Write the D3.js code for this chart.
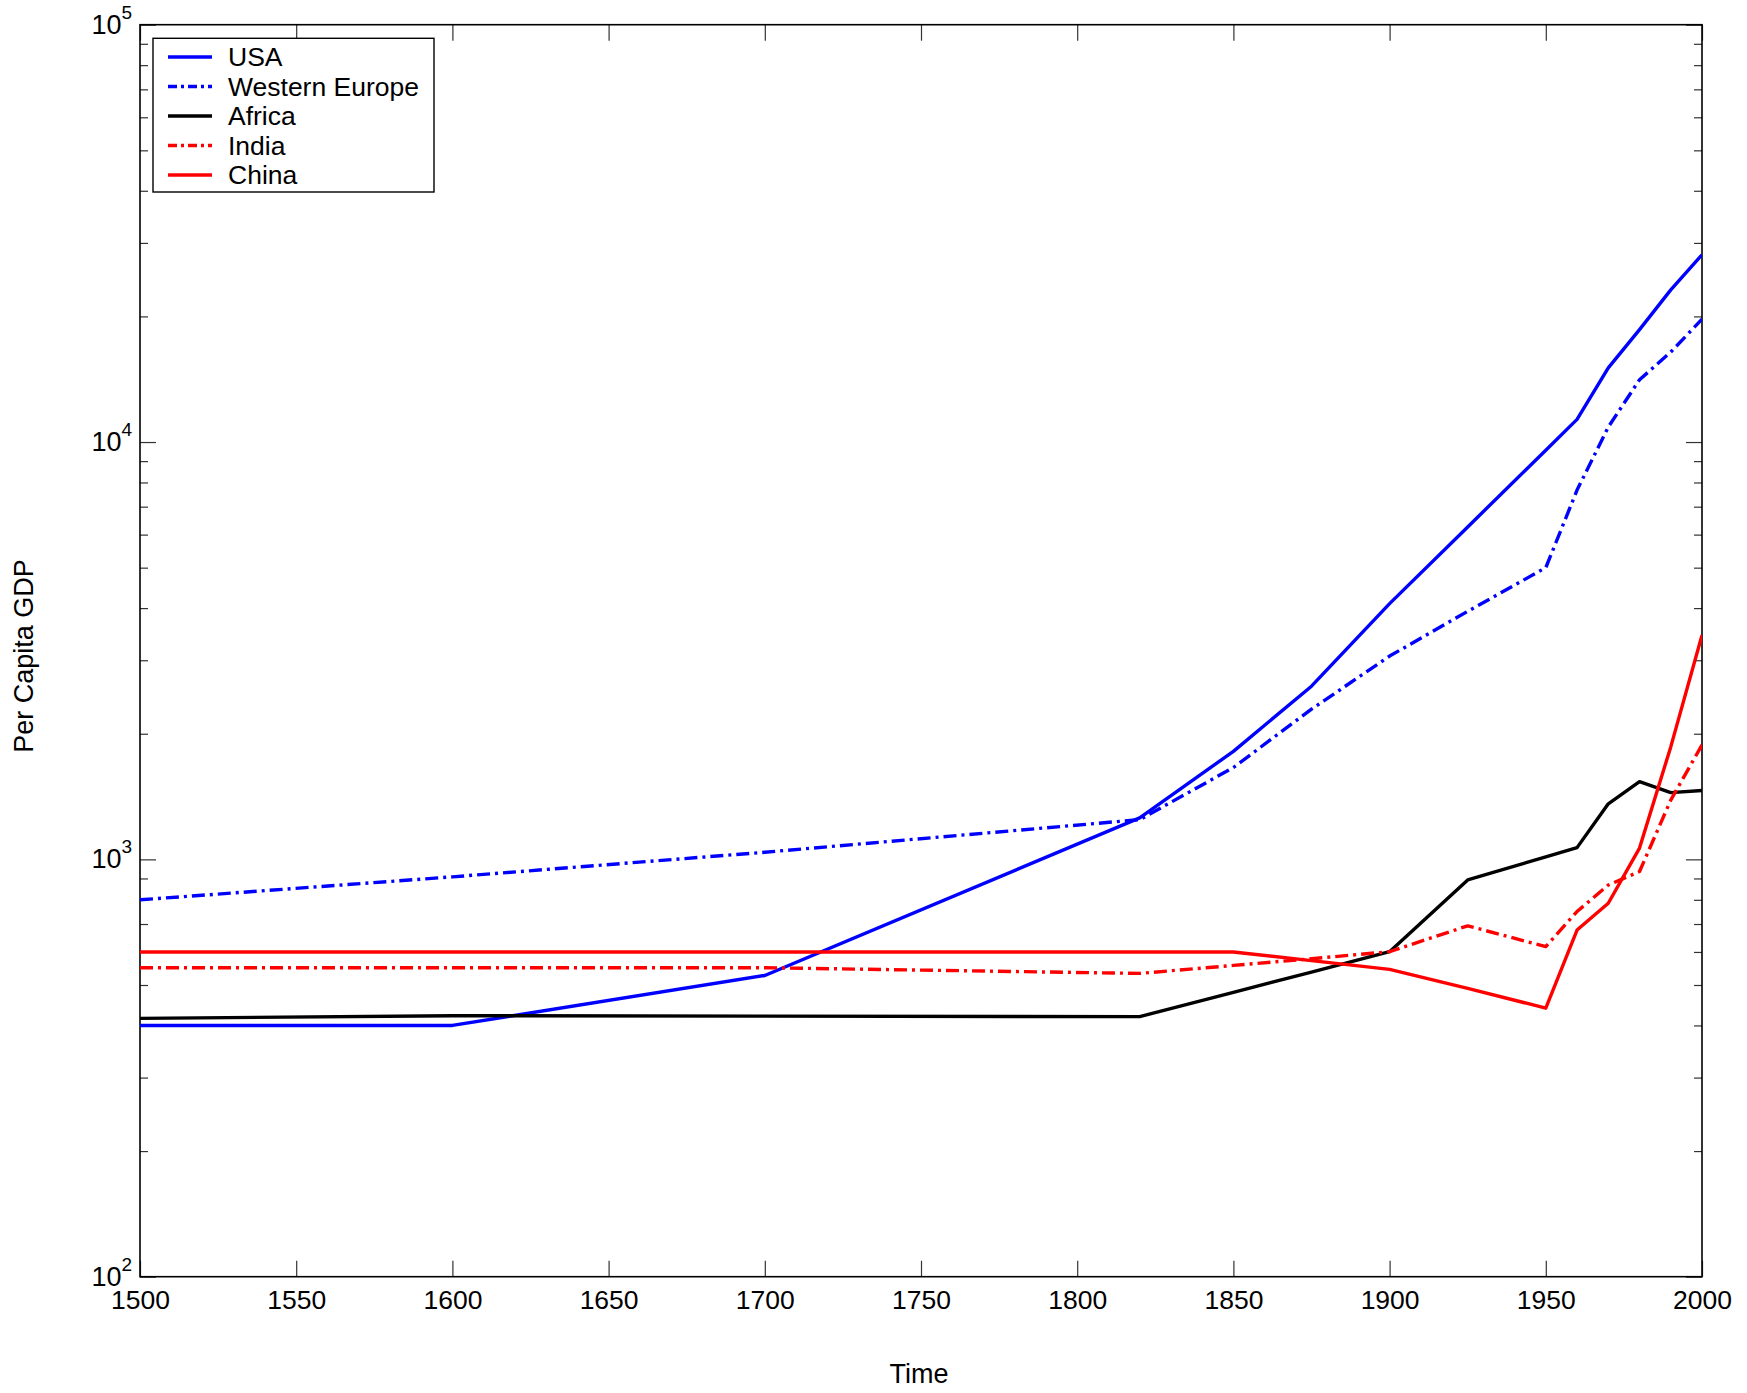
<!DOCTYPE html>
<html>
<head>
<meta charset="utf-8">
<script src="https://cdn.jsdelivr.net/npm/d3@7"></script>
<style>
  body { margin: 0; background: #fff; }
  text { font-family: "Liberation Sans", Arial, Helvetica, sans-serif; fill: #000; }
</style>
</head>
<body>
<svg id="chart" width="1747" height="1393"></svg>
<script>
const years = [1500, 1600, 1700, 1820, 1850, 1875, 1900, 1925, 1950, 1960, 1970, 1980, 1990, 2000];
const usa = [400, 400, 527, 1257, 1815, 2600, 4100, 6260, 9560, 11330, 15050, 18600, 23150, 28100];
const westernEurope = [800, 908, 1040, 1245, 1660, 2290, 3070, 3930, 5000, 7670, 10860, 14100, 16430, 19700];
const africa = [416, 422, 421, 420, 480, 537, 601, 893, 1014, 1067, 1359, 1535, 1445, 1462];
const india = [550, 550, 550, 533, 557, 578, 601, 693, 618, 750, 868, 935, 1387, 1880];
const china = [600, 600, 600, 600, 600, 572, 545, 491, 440, 677, 785, 1064, 1860, 3445];

const seriesNames = ['USA', 'Western Europe', 'Africa', 'India', 'China'];
const xTicks = [1500, 1550, 1600, 1650, 1700, 1750, 1800, 1850, 1900, 1950, 2000];
const yMajor = [100, 1000, 10000, 100000];
const yExp = ['2', '3', '4', '5'];

const series = [
  { name: seriesNames[0], values: usa, color: '#0000ff', dash: null },
  { name: seriesNames[1], values: westernEurope, color: '#0000ff', dash: '13,5,3,5' },
  { name: seriesNames[2], values: africa, color: '#000000', dash: null },
  { name: seriesNames[3], values: india, color: '#ff0000', dash: '13,5,3,5' },
  { name: seriesNames[4], values: china, color: '#ff0000', dash: null }
];

const plotLeft = 140, plotRight = 1702, plotTop = 24.7, plotBottom = 1276.7;

const svg = d3.select('#chart');

const x = d3.scaleLinear().domain([1500, 2000]).range([plotLeft, plotRight]);
const y = d3.scaleLog().domain([100, 100000]).range([plotBottom, plotTop]);

// minor ticks 2..9 per decade
const yMinor = [];
for (let e = 2; e < 5; e++) {
  for (let m = 2; m <= 9; m++) yMinor.push(m * Math.pow(10, e));
}

const styleAxis = (g) => {
  g.select('.domain').remove();
  g.selectAll('.tick line').attr('stroke', '#333').attr('stroke-width', 1.2);
};

// x axes
svg.append('g')
  .attr('transform', `translate(0,${plotBottom})`)
  .call(d3.axisBottom(x).tickValues(xTicks).tickSize(-16).tickPadding(13.5).tickFormat(d3.format('d')))
  .call(styleAxis)
  .call(g => g.selectAll('.tick text').attr('font-size', 26.5).attr('fill', '#000'));

svg.append('g')
  .attr('transform', `translate(0,${plotTop})`)
  .call(d3.axisTop(x).tickValues(xTicks).tickSize(-16).tickFormat(''))
  .call(styleAxis);

// y axes, major and minor, both sides
svg.append('g')
  .attr('transform', `translate(${plotLeft},0)`)
  .call(d3.axisLeft(y).tickValues(yMajor).tickSize(-16).tickFormat(''))
  .call(styleAxis);
svg.append('g')
  .attr('transform', `translate(${plotLeft},0)`)
  .call(d3.axisLeft(y).tickValues(yMinor).tickSize(-8).tickFormat(''))
  .call(styleAxis);
svg.append('g')
  .attr('transform', `translate(${plotRight},0)`)
  .call(d3.axisRight(y).tickValues(yMajor).tickSize(-16).tickFormat(''))
  .call(styleAxis);
svg.append('g')
  .attr('transform', `translate(${plotRight},0)`)
  .call(d3.axisRight(y).tickValues(yMinor).tickSize(-8).tickFormat(''))
  .call(styleAxis);

// y tick labels as 10^n
const yl = svg.append('g').selectAll('text')
  .data(yMajor)
  .enter()
  .append('text')
  .attr('x', plotLeft - 8)
  .attr('y', d => y(d) + 9)
  .attr('text-anchor', 'end')
  .attr('font-size', 27);
yl.append('tspan').text('10');
yl.append('tspan')
  .attr('dy', -15)
  .attr('font-size', 19)
  .text((d, i) => yExp[i]);

// frame
svg.append('rect')
  .attr('x', plotLeft).attr('y', plotTop)
  .attr('width', plotRight - plotLeft).attr('height', plotBottom - plotTop)
  .attr('fill', 'none').attr('stroke', '#000').attr('stroke-width', 1.6);

// lines
const line = d3.line()
  .x((d, i) => x(years[i]))
  .y(d => y(d));

svg.append('clipPath').attr('id', 'plotclip')
  .append('rect').attr('x', plotLeft).attr('y', plotTop)
  .attr('width', plotRight - plotLeft).attr('height', plotBottom - plotTop);

svg.append('g').attr('clip-path', 'url(#plotclip)')
  .selectAll('path')
  .data(series)
  .enter()
  .append('path')
  .attr('d', d => line(d.values))
  .attr('fill', 'none')
  .attr('stroke', d => d.color)
  .attr('stroke-width', 3.4)
  .attr('stroke-linejoin', 'round')
  .attr('stroke-dasharray', d => d.dash);

// legend
const legend = svg.append('g');
legend.append('rect')
  .attr('x', 153).attr('y', 38.3)
  .attr('width', 281).attr('height', 153.7)
  .attr('fill', '#fff').attr('stroke', '#000').attr('stroke-width', 1.4);

const items = legend.selectAll('.item')
  .data(series)
  .enter()
  .append('g')
  .attr('class', 'item')
  .attr('transform', (d, i) => `translate(0,${57 + i * 29.5})`);

items.append('line')
  .attr('x1', 168).attr('x2', 212)
  .attr('y1', 0).attr('y2', 0)
  .attr('stroke', d => d.color)
  .attr('stroke-width', 3.4)
  .attr('stroke-dasharray', d => d.dash ? '9,4,3,4' : null);

items.append('text')
  .attr('x', 228)
  .attr('y', 9)
  .attr('font-size', 26.5)
  .text(d => d.name);

// axis titles
svg.append('text')
  .attr('x', 919)
  .attr('y', 1383)
  .attr('text-anchor', 'middle')
  .attr('font-size', 27)
  .text('Time');

svg.append('text')
  .attr('transform', 'translate(33,656) rotate(-90)')
  .attr('text-anchor', 'middle')
  .attr('font-size', 27)
  .text('Per Capita GDP');
</script>
</body>
</html>
